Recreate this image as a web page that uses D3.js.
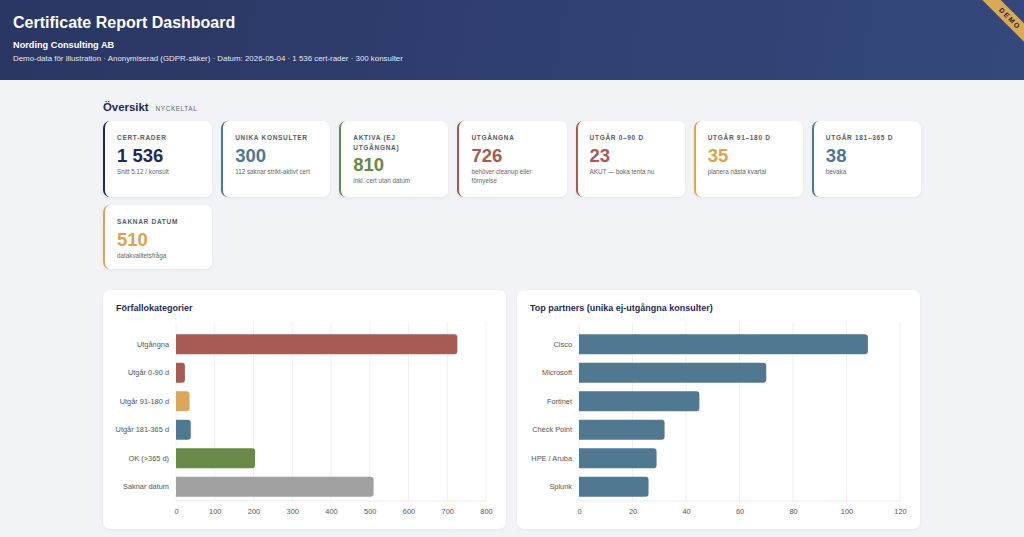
<!DOCTYPE html>
<html lang="sv">
<head>
<meta charset="utf-8">
<title>Certificate Report Dashboard</title>
<script src="https://cdn.jsdelivr.net/npm/d3@7"></script>
<style>
  html, body { margin: 0; padding: 0; }
  body {
    width: 1024px; height: 537px; overflow: hidden;
    background: #f1f3f7;
    font-family: "Liberation Sans", Arial, Helvetica, sans-serif;
    position: relative;
  }
  .header {
    position: absolute; left: 0; top: 0; width: 1024px; height: 80px;
    background: linear-gradient(100deg, #2a3663 0%, #34487c 100%);
    color: #fff; overflow: hidden;
  }
  .header h1 { position: absolute; left: 13px; top: 14px; margin: 0; font-size: 16px; font-weight: 700; }
  .header .org { position: absolute; left: 13px; top: 40px; font-size: 9.2px; font-weight: 700; }
  .header .meta { position: absolute; left: 13px; top: 54px; font-size: 7.9px; color: #e4e8f2; }
  .ribbon {
    position: absolute; left: 965px; top: 12px; width: 90px; height: 13px;
    background: #d9a85a; transform: rotate(45deg);
    color: #2a2a2a; font-size: 7px; font-weight: 700; letter-spacing: 1.6px;
    text-align: center; line-height: 13px;
  }
  .section { position: absolute; left: 103px; top: 97px; }
  .section .t { font-size: 11.4px; font-weight: 700; color: #1f2a56; }
  .section .s { font-size: 6.4px; color: #666; letter-spacing: 0.6px; margin-left: 7px; }
  .kpis {
    position: absolute; left: 103px; top: 121px; width: 818px;
    display: grid; grid-template-columns: repeat(7, 1fr); column-gap: 9px; row-gap: 8px;
    grid-auto-rows: 76px 64px;
  }
  .card {
    background: #fff; border-radius: 7px; border-left: 2px solid #1f2a56;
    box-shadow: 0 1px 3px rgba(30,40,80,0.07);
    padding: 12px 10px 0 12px; box-sizing: border-box;
  }
  .card .lab { font-size: 6.5px; font-weight: 700; color: #555b69; letter-spacing: 0.7px; line-height: 9.5px; text-transform: uppercase; }
  .card .val { font-size: 18.5px; font-weight: 700; line-height: 21px; margin-top: 2px; }
  .card .sub { font-size: 6.3px; color: #666; line-height: 9.5px; margin-top: 1px; }
  .panel {
    position: absolute; top: 290px; width: 403px; height: 239px;
    background: #fff; border-radius: 7px; box-shadow: 0 1px 3px rgba(30,40,80,0.06);
  }
  .panel svg { position: absolute; left: 0; top: 0; }
  .panel .ptitle { font-size: 9px; font-weight: 700; fill: #1f2a56; }
  .tick text { font-size: 7.4px; fill: #555; font-family: "Liberation Sans", Arial, sans-serif; }
</style>
</head>
<body>
<div class="header">
  <h1>Certificate Report Dashboard</h1>
  <div class="org">Nording Consulting AB</div>
  <div class="meta">Demo-data för illustration · Anonymiserad (GDPR-säker) · Datum: 2026-05-04 · 1 536 cert-rader · 300 konsulter</div>
  <div class="ribbon">DEMO</div>
</div>
<div class="section"><span class="t">Översikt</span><span class="s">NYCKELTAL</span></div>
<div class="kpis" id="kpis"></div>
<div class="panel" id="p1" style="left:103px"></div>
<div class="panel" id="p2" style="left:517px"></div>

<script>
// KPI cards
const kpiLabels = ['Cert-rader', 'Unika konsulter', 'Aktiva (ej utgångna)', 'Utgångna', 'Utgår 0–90 d', 'Utgår 91–180 d', 'Utgår 181–365 d', 'Saknar datum'];
const kpiValues = ['1 536', '300', '810', '726', '23', '35', '38', '510'];
const kpiNotes = ['Snitt 5.12 / konsult', '112 saknar strikt-aktivt cert', 'inkl. cert utan datum', 'behöver cleanup eller förnyelse', 'AKUT — boka tenta nu', 'planera nästa kvartal', 'bevaka', 'datakvalitetsfråga'];
const kpiColors = ['#1f2a56', '#4d7894', '#638a48', '#a65a53', '#a65a53', '#d9a453', '#4d7894', '#d9a453'];

// Förfallokategorier
const expiryCats = ['Utgångna', 'Utgår 0-90 d', 'Utgår 91-180 d', 'Utgår 181-365 d', 'OK (>365 d)', 'Saknar datum'];
const expiryVals = [726, 23, 35, 38, 204, 510];
const expiryColors = ['#a85b55', '#a85b55', '#d9a85a', '#4f7891', '#6a8a4a', '#a0a0a0'];
const expiryTicks = [0, 100, 200, 300, 400, 500, 600, 700, 800];

// Top partners
const partnerCats = ['Cisco', 'Microsoft', 'Fortinet', 'Check Point', 'HPE / Aruba', 'Splunk'];
const partnerVals = [108, 70, 45, 32, 29, 26];
const partnerTicks = [0, 20, 40, 60, 80, 100, 120];

const cards = d3.select('#kpis').selectAll('div.card')
  .data(kpiLabels.map((l, i) => ({ l, v: kpiValues[i], n: kpiNotes[i], c: kpiColors[i] })))
  .join('div')
    .attr('class', 'card')
    .style('border-left-color', d => d.c);
cards.append('div').attr('class', 'lab').text(d => d.l);
cards.append('div').attr('class', 'val').style('color', d => d.c).text(d => d.v);
cards.append('div').attr('class', 'sub').text(d => d.n);

function barChart(sel, title, cats, vals, colors, ticks, left) {
  const W = 403, H = 239;
  const m = { left, right: 20, top: 40, bottom: 28 };
  const svg = d3.select(sel).append('svg').attr('width', W).attr('height', H);

  svg.append('text').attr('class', 'ptitle').attr('x', 13).attr('y', 21).text(title);

  const x = d3.scaleLinear().domain([0, ticks[ticks.length - 1]]).range([m.left, W - m.right]);
  const y = d3.scaleBand().domain(cats).range([m.top, H - m.bottom]).paddingInner(0.3).paddingOuter(0.15);

  // rutnät
  svg.append('g').selectAll('line').data(ticks).join('line')
    .attr('x1', d => x(d)).attr('x2', d => x(d))
    .attr('y1', m.top - 8).attr('y2', H - m.bottom)
    .attr('stroke', '#ececf0').attr('stroke-width', 0.8);
  svg.append('line')
    .attr('x1', m.left).attr('x2', W - m.right)
    .attr('y1', H - m.bottom).attr('y2', H - m.bottom)
    .attr('stroke', '#e4e4ea').attr('stroke-width', 0.8);

  const xAxis = svg.append('g')
    .attr('transform', `translate(0,${H - m.bottom})`)
    .call(d3.axisBottom(x).tickValues(ticks).tickSize(0).tickPadding(8));
  xAxis.select('.domain').remove();

  const yAxis = svg.append('g')
    .attr('transform', `translate(${m.left},0)`)
    .call(d3.axisLeft(y).tickSize(0).tickPadding(7));
  yAxis.select('.domain').remove();
  svg.selectAll('.tick text').attr('fill', '#555');

  const r = 3;
  svg.append('g').selectAll('path').data(cats).join('path')
    .attr('fill', (d, i) => Array.isArray(colors) ? colors[i] : colors)
    .attr('d', (d, i) => {
      const x0 = x(0), x1 = x(vals[i]), y0 = y(d), h = y.bandwidth();
      const rr = Math.min(r, (x1 - x0) / 2);
      return `M${x0},${y0}H${x1 - rr}Q${x1},${y0} ${x1},${y0 + rr}V${y0 + h - rr}Q${x1},${y0 + h} ${x1 - rr},${y0 + h}H${x0}Z`;
    });
}

barChart('#p1', 'Förfallokategorier', expiryCats, expiryVals, expiryColors, expiryTicks, 73);
barChart('#p2', 'Top partners (unika ej-utgångna konsulter)', partnerCats, partnerVals, '#507891', partnerTicks, 62);
</script>
</body>
</html>
